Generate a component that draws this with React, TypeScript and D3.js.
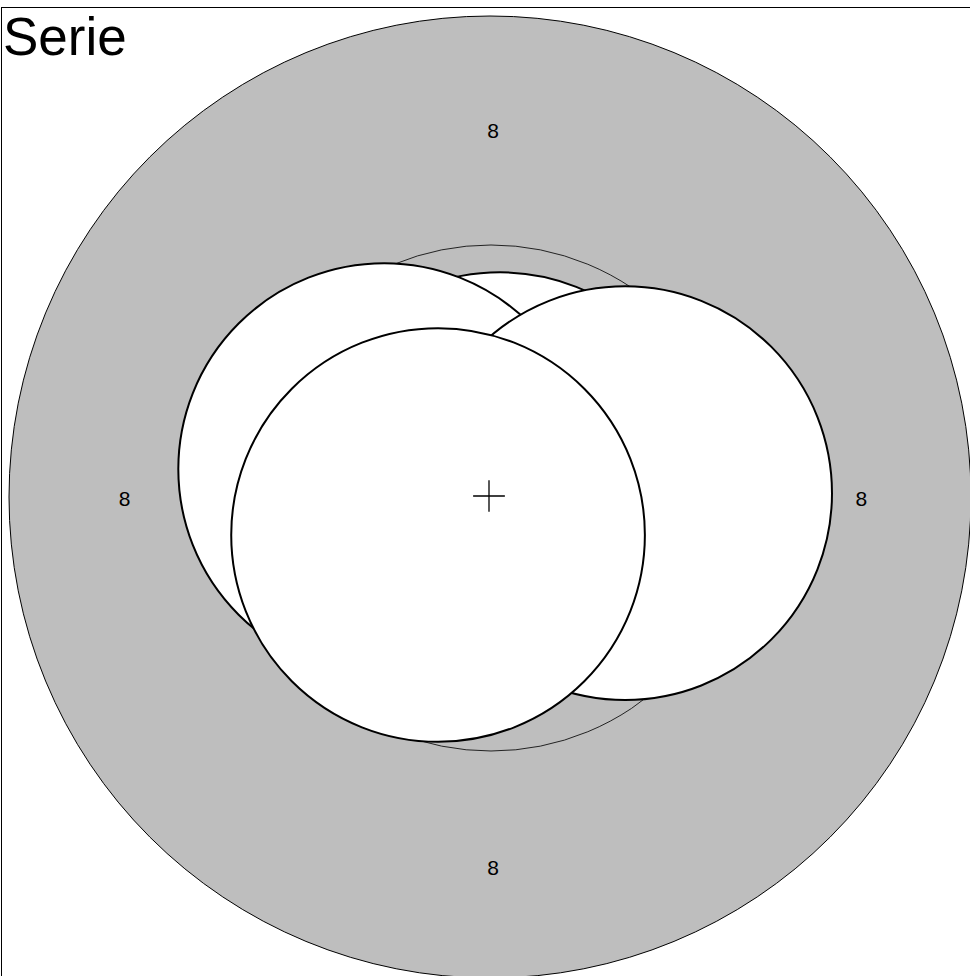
import { useEffect, useRef } from 'react'
import { select, scaleLinear } from 'd3'

// chart values (units: outer ring = 10)
const title = 'Serie'
const bubbleX = [0.21, -2.2, 2.81, -1.08]
const bubbleY = [0.37, 0.58, 0.08, -0.79]
const bubbleR = [4.3, 4.28, 4.3, 4.3]
const gridRadius = [5.26]
const outerRadius = 10
const axisLabels = ['8', '8', '8', '8']
const axisAngles = [90, 180, 0, 270]   // degrees, counter clockwise from 3 o'clock
const labelRadius = 7.66

const WIDTH = 970
const HEIGHT = 976
const CX = 490
const CY = 497
const R_PX = 481

export default function App() {
  const ref = useRef<SVGSVGElement | null>(null)

  useEffect(() => {
    const svg = select(ref.current)
    svg.selectAll('*').remove()

    // same scale for both directions so circles stay round
    const x = scaleLinear().domain([-outerRadius, outerRadius]).range([CX - R_PX, CX + R_PX])
    const y = scaleLinear().domain([-outerRadius, outerRadius]).range([CY + R_PX, CY - R_PX])
    const len = scaleLinear().domain([0, outerRadius]).range([0, R_PX])

    // frame (only top and left edges are inside the window)
    svg.append('rect')
      .attr('x', 1.5).attr('y', 7.5)
      .attr('width', WIDTH + 20).attr('height', HEIGHT + 20)
      .attr('fill', 'white').attr('stroke', 'black').attr('stroke-width', 1)

    svg.append('circle')
      .attr('cx', x(0)).attr('cy', y(0)).attr('r', len(outerRadius))
      .attr('fill', '#bebebe').attr('stroke', 'black').attr('stroke-width', 1)

    svg.selectAll('circle.grid')
      .data(gridRadius)
      .join('circle')
      .attr('class', 'grid')
      .attr('cx', x(0) + 1).attr('cy', y(0) + 1).attr('r', d => len(d))
      .attr('fill', 'none').attr('stroke', '#111').attr('stroke-width', 0.9)

    // axis labels sit a touch right/below of the plot centre
    svg.append('g')
      .attr('font-family', 'Liberation Sans, Arial, sans-serif')
      .attr('font-size', 21)
      .attr('text-anchor', 'middle')
      .attr('transform', 'translate(3,1.5)')
      .selectAll('text')
      .data(axisLabels)
      .join('text')
      .attr('x', (d, i) => x(labelRadius * Math.cos(axisAngles[i] * Math.PI / 180)))
      .attr('y', (d, i) => y(labelRadius * Math.sin(axisAngles[i] * Math.PI / 180)))
      .attr('dy', '0.36em')
      .text(d => d)

    // bubbles, drawn in order so the last one sits on top
    svg.append('g')
      .selectAll('circle')
      .data(bubbleX.map((v, i) => ({ x: v, y: bubbleY[i], r: bubbleR[i] })))
      .join('circle')
      .attr('cx', d => x(d.x)).attr('cy', d => y(d.y)).attr('r', d => len(d.r))
      .attr('fill', 'white').attr('stroke', 'black').attr('stroke-width', 2)

    // centre cross
    const c = len(0.33)
    svg.append('path')
      .attr('d', `M${x(0) - 1 - c},${y(0) - 1}H${x(0) - 1 + c}M${x(0) - 1},${y(0) - 1 - c}V${y(0) - 1 + c}`)
      .attr('stroke', 'black').attr('stroke-width', 1.3).attr('fill', 'none')

    svg.append('text')
      .attr('x', 3).attr('y', 55)
      .attr('font-family', 'Liberation Sans, Arial, sans-serif')
      .attr('font-size', 53)
      .text(title)
  }, [])

  return (
    <svg ref={ref} width={WIDTH} height={HEIGHT}
      style={{ position: 'absolute', left: 0, top: 0, display: 'block' }} />
  )
}
